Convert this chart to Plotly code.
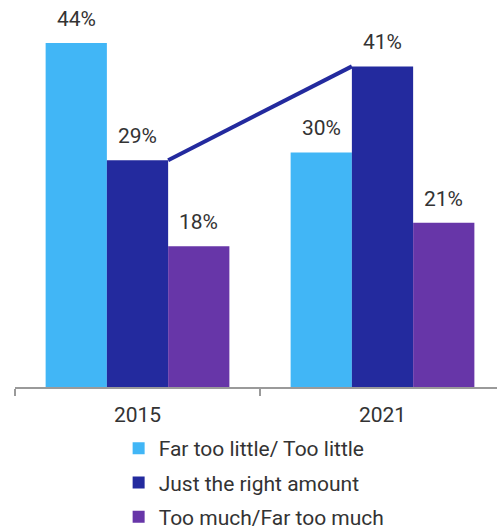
import plotly.graph_objects as go

categories = ["2015", "2021"]
series_names = ["Far too little/ Too little", "Just the right amount", "Too much/Far too much"]
far_too_little = [44, 30]
just_right = [29, 41]
too_much = [18, 21]
values = [far_too_little, just_right, too_much]
colors = ["#41B6F6", "#232A9E", "#6736A8"]

FONT = "Roboto"
TXT = "#333333"
FW = 400

fig = go.Figure()
for i, (name, vals, col) in enumerate(zip(series_names, values, colors)):
    fig.add_trace(go.Bar(
        x=categories, y=vals, name=name, marker=dict(color=col, line=dict(width=0)),
        legendgroup=f"g{i}", showlegend=True,
    ))

# connecting line for "Just the right amount" (right edge of 2015 bar to left edge of 2021 bar)
fig.add_trace(go.Scatter(
    x=[0.125, 0.875], y=just_right, xaxis="x2", mode="lines",
    line=dict(color=colors[1], width=4), showlegend=False, hoverinfo="skip",
))

# value labels
offsets = [-0.25, 0, 0.25]
for i, vals in enumerate(values):
    for j, v in enumerate(vals):
        fig.add_annotation(x=j + offsets[i], y=v, xref="x2", yref="y", text=f"{v}%",
                           showarrow=False, yanchor="bottom", yshift=10,
                           font=dict(family=FONT, size=21, color=TXT, weight=FW))

xr = [-0.5, 1.5 - 8 / 245]
fig.update_layout(
    width=497, height=531,
    margin=dict(l=15, r=0, t=0, b=144, autoexpand=False),
    paper_bgcolor="white", plot_bgcolor="white",
    barmode="group", bargap=0.25, bargroupgap=0,
    font=dict(family=FONT, size=21, color=TXT, weight=FW),
    xaxis=dict(type="category", range=xr, showline=True, linecolor="#9a9a9a", linewidth=2,
               ticks="outside", tickson="boundaries", ticklen=7, tickcolor="#9a9a9a", tickwidth=2,
               ticklabelstandoff=8,
               tickfont=dict(family=FONT, size=21, color=TXT, weight=FW), showgrid=False, zeroline=False,
               automargin=False),
    xaxis2=dict(overlaying="x", range=xr, visible=False),
    yaxis=dict(range=[0, 387 / 7.82], visible=False, showgrid=False, zeroline=False),
    showlegend=True,
    legend=dict(orientation="v", x=0.215, xanchor="left", xref="paper",
                y=1 - 428 / 531, yanchor="top", yref="container",
                traceorder="grouped", tracegroupgap=4,
                font=dict(family=FONT, size=21, color=TXT, weight=FW), itemclick=False),
)

fig.write_html("out.html")
